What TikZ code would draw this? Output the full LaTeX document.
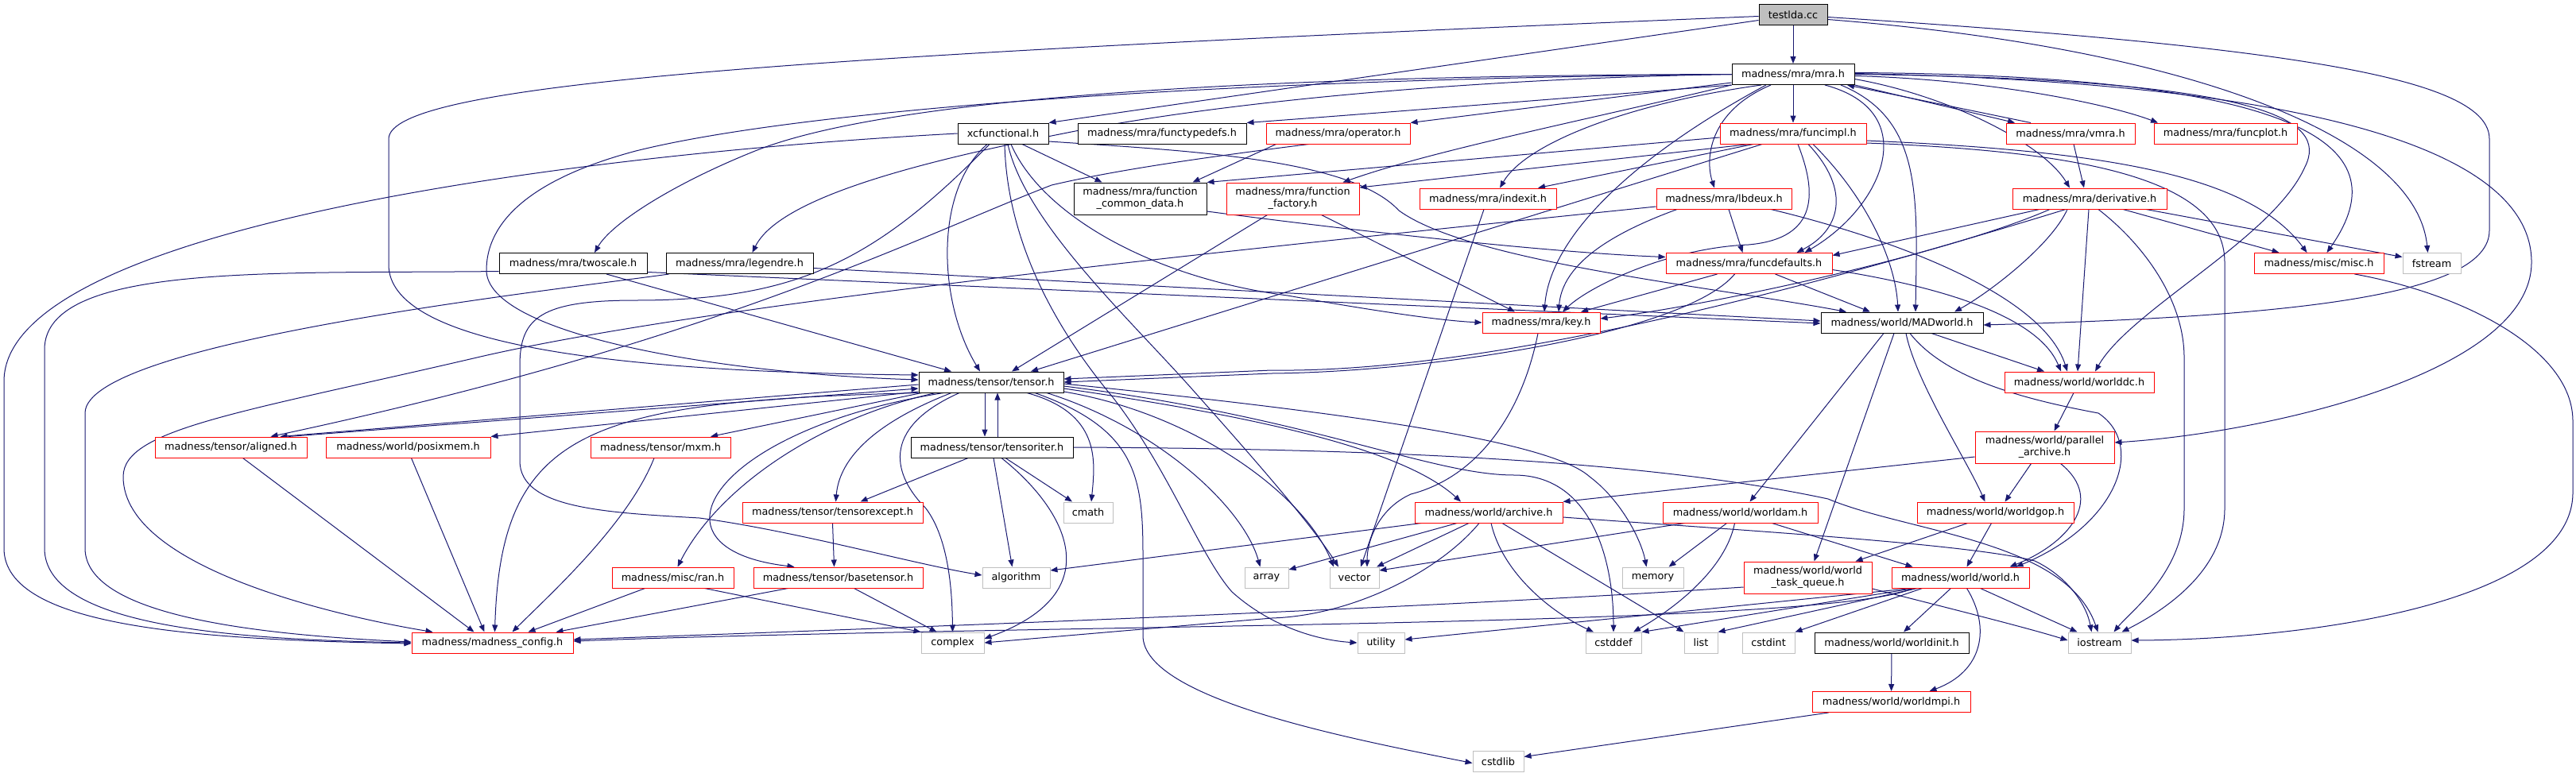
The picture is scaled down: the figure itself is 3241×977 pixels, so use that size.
\documentclass[tikz,border=0pt]{standalone}
\usepackage{fontspec}
\setmainfont{DejaVu Sans}
\usetikzlibrary{arrows.meta}
\definecolor{edgec}{HTML}{191970}
\definecolor{redb}{HTML}{FF0000}
\definecolor{greyb}{HTML}{BFBFBF}
\pgfdeclarelayer{bg}
\pgfsetlayers{bg,main}
\begin{document}
\begin{tikzpicture}[x=1pt,y=-1pt,
  nd/.style={rectangle, inner sep=0pt, minimum height=26pt, line width=1pt, fill=white, font=\fontsize{12.8}{15}\selectfont, text=black, align=center},
  bbox/.style={nd, draw=black},
  rbox/.style={nd, draw=redb},
  gbox/.style={nd, draw=greyb},
  gfill/.style={nd, draw=black, fill=greyb},
  two/.style={minimum height=40pt},
  edg/.style={draw=edgec, line width=1pt, -{Triangle[length=9pt,width=7pt]}}]
\useasboundingbox (0,0) rectangle (3241,977);
% nodes
\node[gfill, minimum width=86pt] (testlda) at (2256,18.5) {testlda.cc};
\node[bbox, minimum width=154pt] (mra) at (2256,93.5) {madness/mra/mra.h};
\node[bbox, minimum width=114pt] (xcf) at (1262,168) {xcfunctional.h};
\node[bbox, minimum width=212pt] (functypedefs) at (1462,168) {madness/mra/functypedefs.h};
\node[rbox, minimum width=181pt] (operator) at (1683.5,168) {madness/mra/operator.h};
\node[rbox, minimum width=184pt] (funcimpl) at (2256,168) {madness/mra/funcimpl.h};
\node[rbox, minimum width=162pt] (vmra) at (2605,168) {madness/mra/vmra.h};
\node[rbox, minimum width=180pt] (funcplot) at (2800,168) {madness/mra/funcplot.h};
\node[bbox, two, minimum width=167pt] (fcd) at (1434.5,250) {madness/mra/function\\\_common\_data.h};
\node[rbox, two, minimum width=167pt] (ffactory) at (1626.5,250) {madness/mra/function\\\_factory.h};
\node[rbox, minimum width=172pt] (indexit) at (1872,250) {madness/mra/indexit.h};
\node[rbox, minimum width=170pt] (lbdeux) at (2169,250) {madness/mra/lbdeux.h};
\node[rbox, minimum width=194pt] (derivative) at (2629,250) {madness/mra/derivative.h};
\node[bbox, minimum width=186pt] (twoscale) at (721,331.5) {madness/mra/twoscale.h};
\node[bbox, minimum width=185pt] (legendre) at (930.5,331.5) {madness/mra/legendre.h};
\node[rbox, minimum width=209pt] (funcdefaults) at (2200.5,331.5) {madness/mra/funcdefaults.h};
\node[rbox, minimum width=163pt] (misc) at (2917.5,331.5) {madness/misc/misc.h};
\node[gbox, minimum width=73pt] (fstream) at (3059.5,331.5) {fstream};
\node[rbox, minimum width=148pt] (key) at (1939,406) {madness/mra/key.h};
\node[bbox, minimum width=204pt] (madworld) at (2393,406) {madness/world/MADworld.h};
\node[bbox, minimum width=182pt] (tensor) at (1247,481) {madness/tensor/tensor.h};
\node[rbox, minimum width=188pt] (worlddc) at (2616,481) {madness/world/worlddc.h};
\node[rbox, minimum width=191pt] (aligned) at (290.5,563) {madness/tensor/aligned.h};
\node[rbox, minimum width=207pt] (posixmem) at (513.5,563) {madness/world/posixmem.h};
\node[rbox, minimum width=176pt] (mxm) at (831,563) {madness/tensor/mxm.h};
\node[bbox, minimum width=204pt] (tensoriter) at (1248,563) {madness/tensor/tensoriter.h};
\node[rbox, two, minimum width=175pt] (parallel) at (2572.5,563) {madness/world/parallel\\\_archive.h};
\node[rbox, minimum width=227pt] (tensorexcept) at (1047.5,645) {madness/tensor/tensorexcept.h};
\node[gbox, minimum width=62pt] (cmath) at (1369,645) {cmath};
\node[rbox, minimum width=186pt] (archive) at (1873,645) {madness/world/archive.h};
\node[rbox, minimum width=195pt] (worldam) at (2189.5,645) {madness/world/worldam.h};
\node[rbox, minimum width=197pt] (worldgop) at (2510.5,645) {madness/world/worldgop.h};
\node[rbox, minimum width=153pt] (ran) at (846.5,727) {madness/misc/ran.h};
\node[rbox, minimum width=213pt] (basetensor) at (1054.5,727) {madness/tensor/basetensor.h};
\node[gbox, minimum width=85pt] (algorithm) at (1278.5,727) {algorithm};
\node[gbox, minimum width=55pt] (array) at (1593.5,727) {array};
\node[gbox, minimum width=62pt] (vector) at (1704,727) {vector};
\node[gbox, minimum width=77pt] (memory) at (2079.5,727) {memory};
\node[rbox, two, minimum width=161pt] (wtq) at (2274.5,727) {madness/world/world\\\_task\_queue.h};
\node[rbox, minimum width=173pt] (world) at (2466.5,727) {madness/world/world.h};
\node[rbox, minimum width=203pt] (config) at (619.5,809) {madness/madness\_config.h};
\node[gbox, minimum width=79pt] (complex) at (1198.5,809) {complex};
\node[gbox, minimum width=59pt] (utility) at (1737.5,809) {utility};
\node[gbox, minimum width=70pt] (cstddef) at (2030,809) {cstddef};
\node[gbox, minimum width=42pt] (list) at (2140,809) {list};
\node[gbox, minimum width=66pt] (cstdint) at (2225,809) {cstdint};
\node[bbox, minimum width=194pt] (worldinit) at (2380,809) {madness/world/worldinit.h};
\node[gbox, minimum width=79pt] (iostream) at (2641.5,809) {iostream};
\node[rbox, minimum width=199pt] (worldmpi) at (2379.5,883.5) {madness/world/worldmpi.h};
\node[gbox, minimum width=64pt] (cstdlib) at (1885,958.5) {cstdlib};
\begin{pgfonlayer}{bg}
% testlda
\draw[edg] (testlda) -- (mra);
\draw[edg] ([yshift=-7pt]testlda.west) -- (xcf.north east);
\draw[edg] ([yshift=-2pt]testlda.west) .. controls (1000,70) and (489,105) .. (489,175) -- (489,333) .. controls (489,430) and (750,468) .. ([yshift=9pt]tensor.west);
\draw[edg] ([yshift=-3pt]testlda.east) .. controls (2900,60) and (3132,100) .. (3132,175) -- (3132,290) .. controls (3132,370) and (2900,398) .. ([yshift=-3pt]madworld.east);
\draw[edg] ([yshift=-6pt]testlda.east) .. controls (2750,60) and (3040,170) .. ([xshift=-5pt]fstream.north);
% mra
\draw[edg] (mra.south west) .. controls (1950,125) and (1700,145) .. (functypedefs.north east);
\draw[edg] ([yshift=3pt]mra.south west) -- (operator.north east);
\draw[edg] (mra) -- (funcimpl);
\draw[edg] (mra.south east) -- ([xshift=-70pt]vmra.north);
\draw[edg] ([xshift=-50pt]vmra.north) -- ([xshift=68pt]mra.south);
\draw[edg] ([yshift=-2pt]mra.east) .. controls (2500,100) and (2650,130) .. ([xshift=-85pt]funcplot.north);
\draw[edg] ([yshift=-6pt]mra.east) .. controls (2450,120) and (2570,180) .. ([xshift=-25pt]derivative.north);
\draw[edg] ([yshift=2pt]mra.east) .. controls (2950,95) and (3010,200) .. ([xshift=10pt]misc.north);
\draw[edg] (mra.east) .. controls (2850,100) and (2930,150) .. (2900,210) .. controls (2860,300) and (2680,390) .. ([xshift=20pt]worlddc.north);
\draw[edg] ([yshift=1pt]mra.east) .. controls (2950,105) and (3185,200) .. (3185,330) .. controls (3185,470) and (2850,545) .. ([yshift=6pt]parallel.east);
\draw[edg] (mra.south west) .. controls (2000,150) and (1800,190) .. ([xshift=63pt]ffactory.north);
\draw[edg] ([xshift=-40pt]mra.south) .. controls (2050,130) and (1920,180) .. ([xshift=15pt]indexit.north);
\draw[edg] ([xshift=-28pt]mra.south) .. controls (2150,140) and (2145,200) .. ([xshift=-12pt]lbdeux.north);
\draw[edg] ([xshift=-34pt]mra.south) .. controls (2050,200) and (1950,300) .. ([xshift=4pt]key.north);
\draw[edg] ([xshift=40pt]mra.south) .. controls (2420,140) and (2370,260) .. ([xshift=70pt]funcdefaults.north);
\draw[edg] ([xshift=60pt]mra.south) .. controls (2420,150) and (2412,250) .. ([xshift=17pt]madworld.north);
\draw[edg] (mra.west) .. controls (1500,95) and (1100,130) .. (950,190) .. controls (850,230) and (770,280) .. ([xshift=27pt]twoscale.north);
\draw[edg] (mra.west) .. controls (1800,100) and (1500,135) .. (1338,168) .. controls (1150,205) and (980,250) .. ([xshift=16pt]legendre.north);
\draw[edg] (mra.west) .. controls (1500,100) and (1000,140) .. (800,190) .. controls (650,230) and (612,290) .. (612,340) .. controls (612,420) and (900,470) .. ([yshift=3pt]tensor.west);
% xcfunctional
\draw[edg] (xcf.west) .. controls (700,195) and (5,290) .. (5,480) -- (5,690) .. controls (5,790) and (250,805) .. ([yshift=-1pt]config.west);
\draw[edg] ([xshift=-17pt]xcf.south) .. controls (1100,330) and (1000,378) .. (800,378) .. controls (680,378) and (654,400) .. (654,460) -- (654,580) .. controls (654,640) and (760,645) .. (880,652) .. controls (1000,668) and (1150,710) .. ([yshift=3pt]algorithm.west);
\draw[edg] ([xshift=-20pt]xcf.south) .. controls (1175,240) and (1180,380) .. ([xshift=-14pt]tensor.north);
\draw[edg] ([xshift=2pt]xcf.south) .. controls (1266,270) and (1300,380) .. (1400,500) .. controls (1470,590) and (1510,700) .. (1550,745) .. controls (1600,790) and (1660,806) .. (utility.west);
\draw[edg] ([xshift=6pt]xcf.south) .. controls (1290,280) and (1420,400) .. (1500,490) .. controls (1580,580) and (1650,660) .. ([xshift=-20pt]vector.north);
\draw[edg] ([xshift=24pt]xcf.south) -- ([xshift=-48pt]fcd.north);
\draw[edg] ([yshift=-10pt]xcf.east) .. controls (1500,190) and (1700,200) .. (1760,265) .. controls (1850,330) and (2150,360) .. ([xshift=-70pt]madworld.north);
\draw[edg] ([xshift=10pt]xcf.south) .. controls (1310,270) and (1450,350) .. (1620,372) .. controls (1750,395) and (1820,404) .. (key.west);
% twoscale, legendre
\draw[edg] ([yshift=-10pt]twoscale.west) .. controls (350,345) and (56,330) .. (56,440) -- (56,690) .. controls (56,790) and (300,805) .. (config.west);
\draw[edg] ([xshift=4pt]legendre.south west) .. controls (700,365) and (107,430) .. (107,520) -- (107,690) .. controls (107,780) and (350,800) .. ([yshift=1pt]config.west);
\draw[edg] ([xshift=42pt]twoscale.south) -- ([xshift=-50pt]tensor.north);
\draw[edg] ([yshift=-11pt]twoscale.east) -- ([yshift=-1pt]madworld.west);
\draw[edg] ([yshift=-6pt]legendre.east) -- ([yshift=2pt]madworld.west);
% function factory / common data / operator
\draw[edg] ([xshift=-32pt]ffactory.south) -- ([xshift=26pt]tensor.north);
\draw[edg] ([xshift=36pt]ffactory.south) -- ([xshift=-33pt]key.north);
\draw[edg] ([yshift=-16pt]fcd.east) .. controls (1700,290) and (1950,318) .. ([yshift=8pt]funcdefaults.west);
\draw[edg] ([xshift=-78pt]operator.south) -- ([xshift=66pt]fcd.north);
\draw[edg] ([xshift=-37pt]operator.south) .. controls (1500,200) and (1400,215) .. (1323,233) .. controls (1150,300) and (900,430) .. ([xshift=50pt]aligned.north);
% funcimpl
\draw[edg] ([xshift=-39pt]funcimpl.south) -- ([xshift=50pt]tensor.north);
\draw[edg] ([yshift=-5pt]funcimpl.west) -- (fcd.north east);
\draw[edg] ([xshift=-55pt]funcimpl.south) -- ([yshift=14pt]ffactory.east);
\draw[edg] ([xshift=-50pt]funcimpl.south) -- ([xshift=63pt]indexit.north);
\draw[edg] ([xshift=6pt]funcimpl.south) .. controls (2285,240) and (2290,300) .. (2200,308) .. controls (2100,312) and (2000,360) .. ([xshift=27pt]key.north);
\draw[edg] ([xshift=19pt]funcimpl.south) .. controls (2330,240) and (2315,290) .. ([xshift=60pt]funcdefaults.north);
\draw[edg] ([xshift=25pt]funcimpl.south) .. controls (2350,250) and (2385,330) .. ([xshift=-5pt]madworld.north);
\draw[edg] ([yshift=-9pt]funcimpl.east) .. controls (2650,190) and (2830,220) .. ([xshift=-15pt]misc.north);
\draw[edg] ([yshift=-12pt]funcimpl.east) .. controls (2600,190) and (2799,220) .. (2799,330) -- (2799,640) .. controls (2799,720) and (2720,770) .. ([xshift=28pt]iostream.north);
% derivative, vmra, misc
\draw[edg] ([xshift=4pt]vmra.south) -- ([xshift=-7pt]derivative.north);
\draw[edg] ([xshift=11pt]derivative.south) .. controls (2700,310) and (2748,380) .. (2748,450) -- (2748,640) .. controls (2748,720) and (2680,770) .. ([xshift=18pt]iostream.north);
\draw[edg] ([xshift=45pt]misc.south) .. controls (3100,370) and (3237,440) .. (3237,530) -- (3237,620) .. controls (3237,760) and (2900,805) .. ([yshift=3pt]iostream.east);
\draw[edg] ([xshift=71pt]derivative.south) -- ([yshift=8pt]fstream.west);
\draw[edg] ([xshift=42pt]derivative.south) -- ([xshift=-50pt]misc.north);
\draw[edg] ([xshift=-1pt]derivative.south) -- ([xshift=-2pt]worlddc.north);
\draw[edg] ([xshift=-28pt]derivative.south) .. controls (2580,310) and (2500,370) .. ([xshift=66pt]madworld.north);
\draw[edg] ([xshift=-63pt]derivative.south) -- ([yshift=10pt]funcdefaults.east);
\draw[edg] ([xshift=-50pt]derivative.south) .. controls (2450,320) and (2150,385) .. ([yshift=5pt]key.east);
\draw[edg] ([xshift=-30pt]derivative.south) .. controls (2350,340) and (1900,470) .. (1600,466) -- ([yshift=4pt]tensor.east);
% funcdefaults, lbdeux
\draw[edg] ([xshift=-18pt]funcdefaults.south) .. controls (2120,420) and (1800,468) .. (1600,470) -- (tensor.east);
\draw[edg] ([xshift=-40pt]funcdefaults.south) -- ([xshift=50pt]key.north);
\draw[edg] ([xshift=33pt]funcdefaults.south) -- ([xshift=-40pt]madworld.north);
\draw[edg] ([yshift=-8pt]funcdefaults.east) .. controls (2450,362) and (2565,400) .. ([xshift=-23pt]worlddc.north);
\draw[edg] ([xshift=59pt]lbdeux.south) .. controls (2380,300) and (2570,370) .. ([xshift=-15pt]worlddc.north);
\draw[edg] ([xshift=6pt]lbdeux.south) -- ([xshift=-8pt]funcdefaults.north);
\draw[edg] ([xshift=-59pt]lbdeux.south) .. controls (2010,300) and (1965,340) .. ([xshift=22pt]key.north);
\draw[edg] ([yshift=-10pt]lbdeux.west) .. controls (1600,310) and (900,380) .. (600,450) .. controls (300,520) and (155,540) .. (155,600) .. controls (155,720) and (450,780) .. ([xshift=-75pt]config.north);
% key, indexit
\draw[edg] ([xshift=-5pt]indexit.south) -- ([xshift=8pt]vector.north);
\draw[edg] ([xshift=-4pt]key.south) .. controls (1915,520) and (1860,600) .. (1775,622) .. controls (1735,640) and (1720,680) .. ([xshift=16pt]vector.north);
% tensor
\draw[edg] ([yshift=-3pt]tensor.west) -- ([xshift=62pt]aligned.north);
\draw[edg] ([xshift=72pt]aligned.north) -- ([yshift=-8pt]tensor.west);
\draw[edg] ([yshift=-12pt]tensor.west) -- (posixmem.north east);
\draw[edg] (tensor.south west) .. controls (740,505) and (630,540) .. ([xshift=3pt]config.north);
\draw[edg] ([xshift=4pt]tensor.south west) -- ([xshift=63pt]mxm.north);
\draw[edg] ([xshift=-70pt]tensor.south) .. controls (1020,530) and (900,620) .. ([xshift=6pt]ran.north);
\draw[edg] ([xshift=-60pt]tensor.south) .. controls (900,540) and (800,690) .. ([xshift=-55pt]basetensor.north);
\draw[edg] ([xshift=-50pt]tensor.south) .. controls (1080,540) and (1055,590) .. ([xshift=4pt]tensorexcept.north);
\draw[edg] ([xshift=-40pt]tensor.south) .. controls (1105,540) and (1125,600) .. (1165,640) .. controls (1195,680) and (1198,750) .. (complex.north);
\draw[edg] ([xshift=-8pt]tensor.south) -- ([xshift=-9pt]tensoriter.north);
\draw[edg] ([xshift=7pt]tensoriter.north) -- ([xshift=8pt]tensor.south);
\draw[edg] ([xshift=45pt]tensor.south) .. controls (1385,520) and (1378,580) .. ([xshift=4pt]cmath.north);
\draw[edg] ([xshift=55pt]tensor.south) .. controls (1430,540) and (1438,600) .. (1438,700) -- (1438,800) .. controls (1438,880) and (1700,930) .. ([yshift=-2pt]cstdlib.west);
\draw[edg] ([xshift=70pt]tensor.south) .. controls (1460,540) and (1565,640) .. ([xshift=-8pt]array.north);
\draw[edg] ([yshift=-12pt]tensor.east) .. controls (1500,520) and (1640,620) .. ([xshift=-26pt]vector.north);
\draw[edg] ([yshift=-2pt]tensor.east) .. controls (1700,520) and (1950,555) .. (2000,600) .. controls (2040,630) and (2065,680) .. ([xshift=-8pt]memory.north);
\draw[edg] ([yshift=-8pt]tensor.east) .. controls (1550,520) and (1760,560) .. ([xshift=-35pt]archive.north);
\draw[edg] ([yshift=-5pt]tensor.east) .. controls (1650,525) and (1800,598) .. (1905,598) .. controls (2000,598) and (2030,700) .. (cstddef.north);
% small tensor headers
\draw[edg] ([xshift=15pt]aligned.south) -- ([xshift=-23pt]config.north);
\draw[edg] ([xshift=4pt]posixmem.south) -- ([xshift=-10pt]config.north);
\draw[edg] ([xshift=-8pt]mxm.south) .. controls (790,660) and (690,750) .. ([xshift=25pt]config.north);
\draw[edg] ([xshift=-35pt]ran.south) -- ([xshift=45pt]config.north);
\draw[edg] ([xshift=-63pt]basetensor.south) -- ([xshift=80pt]config.north);
\draw[edg] ([xshift=40pt]ran.south) -- (complex.north west);
\draw[edg] ([xshift=20pt]basetensor.south) -- ([xshift=-20pt]complex.north);
\draw[edg] (tensorexcept.south) -- ([xshift=-5pt]basetensor.north);
\draw[edg] ([xshift=-30pt]tensoriter.south) -- ([xshift=35pt]tensorexcept.north);
\draw[edg] ([xshift=2pt]tensoriter.south) -- ([xshift=-5pt]algorithm.north);
\draw[edg] ([xshift=12pt]tensoriter.south) .. controls (1340,640) and (1400,745) .. ([yshift=5pt]complex.east);
\draw[edg] ([xshift=17pt]tensoriter.south) -- ([xshift=-20pt]cmath.north);
\draw[edg] (tensoriter.east) .. controls (1800,565) and (2100,585) .. (2300,628) .. controls (2400,670) and (2600,680) .. ([xshift=-2pt]iostream.north);
% archive
\draw[edg] ([xshift=-85pt]archive.south) -- ([yshift=9pt]algorithm.east);
\draw[edg] ([xshift=-40pt]archive.south) -- ([yshift=10pt]array.east);
\draw[edg] ([xshift=-25pt]archive.south) -- ([xshift=28pt]vector.north);
\draw[edg] ([xshift=-12pt]archive.south) .. controls (1810,720) and (1700,775) .. (1600,778) -- (complex.east);
\draw[edg] ([xshift=3pt]archive.south) .. controls (1890,720) and (1950,770) .. ([xshift=-25pt]cstddef.north);
\draw[edg] ([xshift=17pt]archive.south) -- (list.north west);
\draw[edg] ([yshift=-6pt]archive.east) .. controls (2200,668) and (2480,685) .. (2560,706) .. controls (2600,725) and (2625,760) .. ([xshift=-10pt]iostream.north);
% worldam
\draw[edg] ([xshift=-70pt]worldam.south) -- ([yshift=9pt]vector.east);
\draw[edg] ([xshift=-17pt]worldam.south) -- ([xshift=20pt]memory.north);
\draw[edg] ([xshift=-7pt]worldam.south) .. controls (2170,720) and (2100,770) .. ([xshift=25pt]cstddef.north);
\draw[edg] ([xshift=40pt]worldam.south) -- ([xshift=-60pt]world.north);
% MADworld
\draw[edg] ([xshift=37pt]madworld.south) -- ([xshift=-44pt]worlddc.north);
\draw[edg] ([xshift=-23pt]madworld.south) -- ([xshift=12pt]worldam.north);
\draw[edg] ([xshift=-10pt]madworld.south) -- ([xshift=8pt]wtq.north);
\draw[edg] ([xshift=5pt]madworld.south) .. controls (2410,480) and (2475,580) .. ([xshift=-13pt]worldgop.north);
\draw[edg] ([xshift=10pt]madworld.south) .. controls (2450,480) and (2560,505) .. (2640,520) .. controls (2700,560) and (2665,660) .. ([xshift=70pt]world.north);
% worlddc, parallel, worldgop
\draw[edg] ([xshift=-7pt]worlddc.south) -- ([xshift=12pt]parallel.north);
\draw[edg] ([xshift=-17pt]parallel.south) -- ([xshift=12pt]worldgop.north);
\draw[edg] ([xshift=20pt]parallel.south) .. controls (2650,630) and (2600,685) .. ([xshift=62pt]world.north);
\draw[edg] ([yshift=-12pt]parallel.west) -- (archive.north east);
\draw[edg] ([xshift=-5pt]worldgop.south) -- ([xshift=8pt]world.north);
\draw[edg] ([xshift=-35pt]worldgop.south) -- ([xshift=60pt]wtq.north);
% wtq, world
\draw[edg] ([yshift=-12pt]wtq.west) .. controls (1800,765) and (1200,788) .. ([yshift=4pt]config.east);
\draw[edg] ([yshift=-14pt]wtq.east) .. controls (2450,765) and (2550,790) .. ([yshift=3pt]iostream.west);
\draw[edg] ([xshift=-60pt]world.south) .. controls (2300,790) and (1300,785) .. ([yshift=2pt]config.east);
\draw[edg] ([xshift=25pt]world.south) -- ([xshift=-28pt]iostream.north);
\draw[edg] ([xshift=-62pt]world.south) -- ([yshift=4pt]utility.east);
\draw[edg] ([xshift=-58pt]world.south) -- (cstddef.north east);
\draw[edg] ([xshift=-54pt]world.south) -- (list.north east);
\draw[edg] ([xshift=-48pt]world.south) -- (cstdint.north east);
\draw[edg] ([xshift=-12pt]world.south) -- ([xshift=15pt]worldinit.north);
\draw[edg] ([xshift=8pt]world.south) .. controls (2505,790) and (2495,845) .. ([xshift=48pt]worldmpi.north);
\draw[edg] (worldinit) -- (worldmpi);
\draw[edg] ([xshift=-79pt]worldmpi.south) -- ([yshift=6pt]cstdlib.east);
\end{pgfonlayer}
\end{tikzpicture}
\end{document}
